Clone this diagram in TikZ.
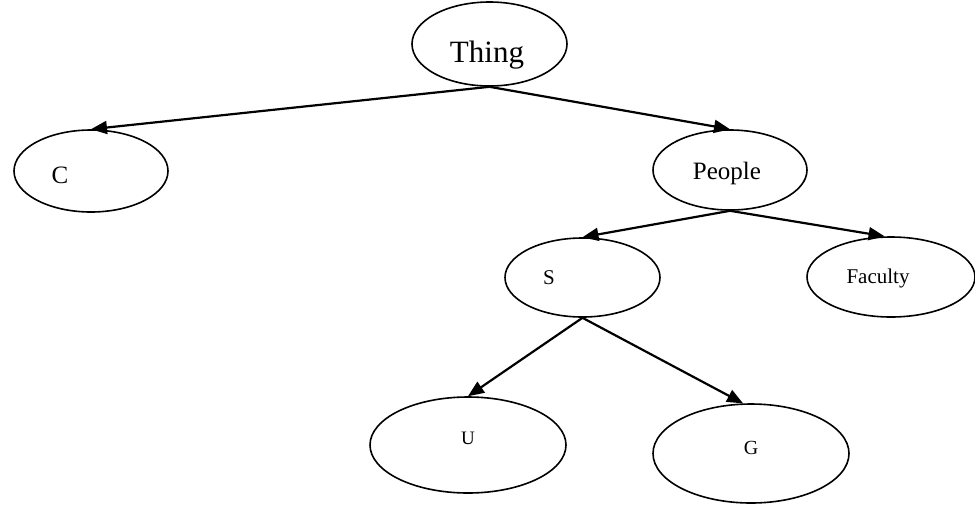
\documentclass[tikz,border=0pt]{standalone}
\usepackage{fontspec}
\setmainfont{Liberation Serif}
\usetikzlibrary{shapes.geometric}
\usetikzlibrary{arrows.meta}

\begin{document}
\begin{tikzpicture}[x=1pt, y=-1pt,
  oval/.style 2 args={ellipse, draw, line width=1.6pt, inner sep=0pt, minimum width=#1, minimum height=#2},
  word/.style={anchor=base, inner sep=0pt},
  link/.style={line width=2.2pt, -{Triangle[length=16pt,width=13pt]}}]
%\draw [help lines] (0,0) grid[step=50] (975,504);
\useasboundingbox (0,0) rectangle (975,504);

\node[oval={155}{84}, label={[word, xshift=-2.5pt, yshift=-11pt, font=\fontsize{31}{36}\selectfont]center:Thing}]   (t) at (489.5,44) {};
\node[oval={154}{82}, label={[word, xshift=-31pt, yshift=-4pt, font=\fontsize{25}{30}\selectfont]center:C}]        (c) at (91,171) {};
\node[oval={154}{80}, label={[word, xshift=-3pt, yshift=-3pt, font=\fontsize{25}{30}\selectfont]center:People}]    (p) at (730,170) {};
\node[oval={155}{79}, label={[word, xshift=-33.5pt, yshift=-0.5pt, font=\fontsize{21}{25}\selectfont]center:S}]     (s) at (582.5,277.5) {};
\node[oval={168}{80}, label={[word, xshift=-13pt, yshift=-1pt, font=\fontsize{21}{25}\selectfont]center:Faculty}]  (f) at (891,277) {};
\node[oval={196}{96}, label={[word, yshift=7pt, font=\fontsize{19}{23}\selectfont]center:U}]                       (u) at (468,445) {};
\node[oval={196}{99}, label={[word, yshift=5.5pt, font=\fontsize{20}{24}\selectfont]center:G}]                     (g) at (751,453.5) {};

% Edges
\draw[link] (t.south) -- (c.north);
\draw[link] (t.south) -- (p.north);
\draw[link] (p.south) -- (s.north);
\draw[link] (p.south) -- (f.99);
\draw[link] (s.south) -- (u.north);
\draw[link] (s.south) -- (g.99);

\end{tikzpicture}
\end{document}
